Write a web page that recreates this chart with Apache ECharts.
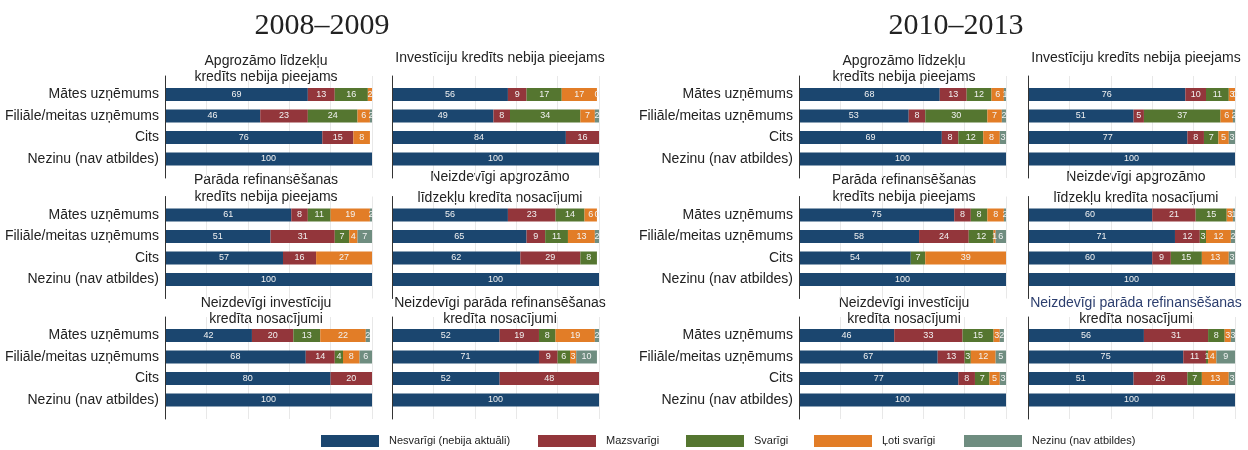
<!DOCTYPE html>
<html>
<head>
<meta charset="utf-8">
<script src="https://cdn.jsdelivr.net/npm/echarts@6/dist/echarts.min.js"></script>
<style>
  html, body { margin: 0; padding: 0; background: #fff; }
  #chart { width: 1248px; height: 450px; }
</style>
</head>
<body>
<div id="chart"></div>
<script>
// categories (rows of every panel) and answer levels (stack parts)
const categories = ['Mātes uzņēmums', 'Filiāle/meitas uzņēmums', 'Cits', 'Nezinu (nav atbildes)'];
const levels = ['Nesvarīgi (nebija aktuāli)', 'Mazsvarīgi', 'Svarīgi', 'Ļoti svarīgi', 'Nezinu (nav atbildes)'];
const periods = ['2008–2009', '2010–2013'];
const panelTitles = [
  ['Apgrozāmo līdzekļu', 'kredīts nebija pieejams'],
  ['Investīciju kredīts nebija pieejams'],
  ['Parāda refinansēšanas', 'kredīts nebija pieejams'],
  ['Neizdevīgi apgrozāmo', 'līdzekļu kredīta nosacījumi'],
  ['Neizdevīgi investīciju', 'kredīta nosacījumi'],
  ['Neizdevīgi parāda refinansēšanas', 'kredīta nosacījumi']
];

// one row per category, one column per level (null = no segment)
const y0809_apgroz      = [[69, 13, 16, 2, null], [46, 23, 24, 6, 2], [76, 15, null, 8, null], [100, null, null, null, null]];
const y0809_invest      = [[56, 9, 17, 17, 0], [49, 8, 34, 7, 2], [84, 16, null, null, null], [100, null, null, null, null]];
const y0809_refin       = [[61, 8, 11, 19, 2], [51, 31, 7, 4, 7], [57, 16, null, 27, null], [100, null, null, null, null]];
const y0809_neizApgroz  = [[56, 23, 14, 6, 0], [65, 9, 11, 13, 2], [62, 29, 8, null, null], [100, null, null, null, null]];
const y0809_neizInvest  = [[42, 20, 13, 22, 2], [68, 14, 4, 8, 6], [80, 20, null, null, null], [100, null, null, null, null]];
const y0809_neizRefin   = [[52, 19, 8, 19, 2], [71, 9, 6, 3, 10], [52, 48, null, null, null], [100, null, null, null, null]];

const y1013_apgroz      = [[68, 13, 12, 6, 1], [53, 8, 30, 7, 2], [69, 8, 12, 8, 3], [100, null, null, null, null]];
const y1013_invest      = [[76, 10, 11, 3, 0], [51, 5, 37, 6, 2], [77, 8, 7, 5, 3], [100, null, null, null, null]];
const y1013_refin       = [[75, 8, 8, 8, 2], [58, 24, 12, 1, 6], [54, null, 7, 39, null], [100, null, null, null, null]];
const y1013_neizApgroz  = [[60, 21, 15, 3, 1], [71, 12, 3, 12, 2], [60, 9, 15, 13, 3], [100, null, null, null, null]];
const y1013_neizInvest  = [[46, 33, 15, 3, 2], [67, 13, 3, 12, 5], [77, 8, 7, 5, 3], [100, null, null, null, null]];
const y1013_neizRefin   = [[56, 31, 8, 3, 3], [75, 11, 1, 4, 9], [51, 26, 7, 13, 3], [100, null, null, null, null]];

const panelsData = [
  [y0809_apgroz, y0809_invest, y0809_refin, y0809_neizApgroz, y0809_neizInvest, y0809_neizRefin],
  [y1013_apgroz, y1013_invest, y1013_refin, y1013_neizApgroz, y1013_neizInvest, y1013_neizRefin]
];

// styling / layout
const colors = ['#1b466f', '#93363b', '#557630', '#e27d27', '#6f8d80'];
const gridLeft = [[165, 392], [799, 1028]];
const periodX = [322, 956];
const titleX = [[266, 500], [904, 1136]];
const titleY = [[[61, 77], [58]], [[180, 197], [177, 198]], [[303, 319], [303, 319]]];
const legendLeft = [321, 538, 686, 814, 964];
const rowStep = 120.5;
const FONT = '"Liberation Sans", Arial, sans-serif';

function getOption() {
  let grid = [], xAxis = [], yAxis = [], series = [], graphic = [];

  periods.forEach(function (period, p) {
    graphic.push({
      type: 'text', x: periodX[p], y: 26,
      style: { text: period, font: '30px "Liberation Serif", "Times New Roman", serif', fill: '#222', align: 'center', verticalAlign: 'middle' }
    });

    panelsData[p].forEach(function (rows, k) {
      const r = Math.floor(k / 2), c = k % 2;
      const left = gridLeft[p][c];
      const dy = r * rowStep;

      // frame grid: vertical grid lines and the left axis line
      const gi = grid.length;
      grid.push({ left: left, top: 76 + dy, width: 207, height: 102 });
      xAxis.push({
        gridIndex: gi, type: 'value', min: 0, max: 100, interval: 20,
        axisLabel: { show: false }, axisTick: { show: false }, axisLine: { show: false },
        splitLine: { lineStyle: { color: '#e8e8e8' } }
      });
      yAxis.push({
        gridIndex: gi, type: 'value', min: 0, max: 1, z: 5,
        axisLine: { show: true, lineStyle: { color: '#333', width: 1 } },
        axisLabel: { show: false }, axisTick: { show: false }, splitLine: { show: false }
      });

      // bar grid
      const bi = grid.length;
      grid.push({ left: left, top: 83.75 + dy, width: 207, height: 86 });
      xAxis.push({ gridIndex: bi, type: 'value', min: 0, max: 100, show: false });
      yAxis.push({
        gridIndex: bi, type: 'category', inverse: true, data: categories,
        axisLine: { show: false }, axisTick: { show: false },
        axisLabel: { show: c === 0, fontSize: 14, color: '#222', margin: 6, fontFamily: FONT, padding: [4, 0, 0, 0] }
      });

      levels.forEach(function (name, j) {
        series.push({
          name: name, type: 'bar', stack: 's' + p + '_' + k,
          xAxisIndex: bi, yAxisIndex: bi, barWidth: 13,
          itemStyle: { color: colors[j] },
          label: {
            show: true, position: 'inside', fontSize: 9, color: '#f2f2f2', fontFamily: FONT,
            formatter: function (d) { return d.value == null ? '' : d.value; }
          },
          data: rows.map(function (row) { return row[j]; })
        });
      });

      // panel title
      const lines = panelTitles[k];
      const ys = titleY[r][c];
      lines.forEach(function (line, li) {
        const fill = (p === 1 && k === 5 && li === 0) ? '#2c3e6e' : '#222';
        graphic.push({
          type: 'text', x: titleX[p][c], y: ys[li],
          style: { text: line, font: '14px ' + FONT, fill: fill, align: 'center', verticalAlign: 'middle' }
        });
      });
    });
  });

  const legend = levels.map(function (name, i) {
    return {
      data: [name], left: legendLeft[i], top: 435, padding: 0,
      itemWidth: 58, itemHeight: 12, icon: 'rect', selectedMode: false,
      textStyle: { fontSize: 11, color: '#222', fontFamily: FONT, padding: [0, 0, 0, 5] }
    };
  });

  return {
    animation: false,
    textStyle: { fontFamily: FONT },
    grid: grid, xAxis: xAxis, yAxis: yAxis,
    legend: legend, graphic: graphic, series: series
  };
}

const chart = echarts.init(document.getElementById('chart'), null, { renderer: 'canvas' });
chart.setOption(getOption());
</script>
</body>
</html>
